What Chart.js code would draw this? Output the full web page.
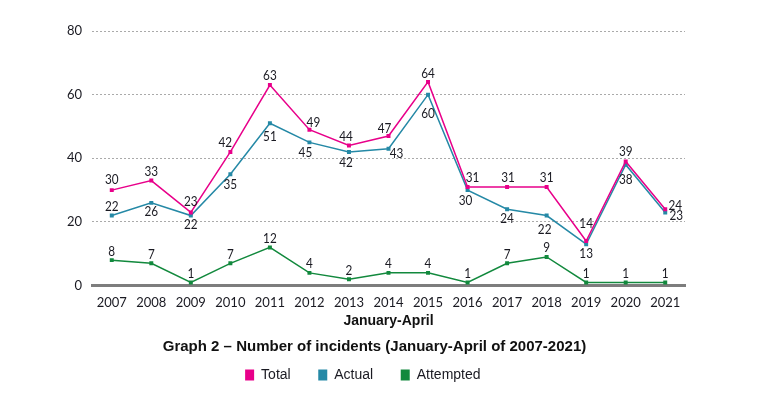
<!DOCTYPE html>
<html>
<head>
<meta charset="utf-8">
<script src="https://cdn.jsdelivr.net/npm/chart.js@4.4.1/dist/chart.umd.min.js"></script>
<style>
html,body{margin:0;padding:0;background:#fff;}
#wrap{width:761px;height:406px;}
</style>
</head>
<body>
<div id="wrap"><canvas id="c"></canvas></div>
<script>
const categories = ['2007','2008','2009','2010','2011','2012','2013','2014','2015','2016','2017','2018','2019','2020','2021'];
const totalValues = [30,33,23,42,63,49,44,47,64,31,31,31,14,39,24];
const actualValues = [22,26,22,35,51,45,42,43,60,30,24,22,13,38,23];
const attemptedValues = [8,7,1,7,12,4,2,4,4,1,7,9,1,1,1];
const yTicks = [0,20,40,60,80];
const seriesNames = ['Total','Actual','Attempted'];

// label offsets in px (style only): [dx, dy]
const totalLabelOffsets = [[0,-11],[0,-9],[0,-11],[-5,-9],[0,-10],[4,-7],[-3,-9],[-4,-8],[0,-8],[5,-9],[1,-9],[0,-9],[0,-18],[0,-10],[10,-4]];
const actualLabelOffsets = [[0,-9],[0,9],[0,9],[0,10],[0,13],[-4,10],[-3,11],[8,5],[0,19],[-2,10],[0,9],[-2,14],[0,9],[0,15],[11,3]];
const attemptedLabelOffsets = Array.from({length: 15}, () => [0,-9]);

const numFont = 'Lato, "Open Sans", sans-serif';

const labelPlugin = {
  id:'pointLabels',
  afterDatasetsDraw(chart){
    const ctx = chart.ctx;
    chart.data.datasets.forEach((ds, di) => {
      const meta = chart.getDatasetMeta(di);
      meta.data.forEach((pt, i) => {
        const o = ds.labelOffsets[i];
        ctx.save();
        ctx.font = '14px ' + numFont;
        ctx.fillStyle = '#1a1a22';
        ctx.textAlign = 'center';
        ctx.textBaseline = 'middle';
        ctx.translate(pt.x + o[0], pt.y + o[1]);
        ctx.scale(0.84, 1);
        ctx.fillText(String(ds.data[i]), 0, 0);
        ctx.restore();
      });
    });
  }
};

const mk = (label, data, color, offs) => ({
  label, data, labelOffsets: offs,
  borderColor: color, backgroundColor: color,
  borderWidth: 1.5, pointStyle: 'rect', pointRadius: 2.8, pointHoverRadius: 2.8,
  pointBorderWidth: 0, tension: 0, fill: false
});

const legendPad = ['    ', '    ', '      '];

new Chart(document.getElementById('c'), {
  type: 'line',
  data: {
    labels: categories,
    datasets: [
      mk(seriesNames[0], totalValues, '#e8008a', totalLabelOffsets),
      mk(seriesNames[1], actualValues, '#2589a6', actualLabelOffsets),
      mk(seriesNames[2], attemptedValues, '#12893d', attemptedLabelOffsets)
    ]
  },
  options: {
    responsive: true, maintainAspectRatio: false, animation: false,
    layout: { padding: { top: 31, bottom: 14, left: 64, right: 76 } },
    scales: {
      x: {
        offset: true,
        grid: { display: false, drawTicks: false },
        border: { display: true, color: '#7d7d7d', width: 3 },
        ticks: { color: '#1a1a22', font: { size: 13, family: numFont }, padding: 9 },
        title: { display: true, text: 'January-April', color: '#111',
          font: { size: 14, weight: 'bold', family: '"Liberation Sans", Arial, sans-serif' }, padding: { top: -6, bottom: 0 } }
      },
      y: {
        min: 0, max: 80,
        afterBuildTicks(s){ s.ticks = yTicks.map(v => ({ value: v })); },
        afterFit(s){ s.width = 28; },
        grid: { color: '#aaaaaa', lineWidth: 1, drawTicks: false },
        border: { display: false, dash: [2,2] },
        ticks: { color: '#1a1a22', font: { size: 13, family: numFont }, padding: 10 }
      }
    },
    plugins: {
      tooltip: { enabled: false },
      title: {
        display: true, position: 'bottom', weight: 500,
        text: 'Graph 2 \u2013 Number of incidents (January-April of 2007-2021)',
        color: '#111',
        font: { size: 15, weight: 'bold', family: '"Liberation Sans", Arial, sans-serif' },
        padding: { top: 8, bottom: 0 }
      },
      legend: {
        position: 'bottom', weight: 1000,
        labels: {
          boxWidth: 9, boxHeight: 11, padding: 12, color: '#1a1a22',
          font: { size: 14, family: '"Liberation Sans", Arial, sans-serif' },
          generateLabels(chart){
            return chart.data.datasets.map((ds, i) => ({
              text: ds.label + legendPad[i],
              fillStyle: ds.backgroundColor, strokeStyle: ds.borderColor,
              lineWidth: 0, hidden: false, datasetIndex: i, fontColor: '#1a1a22'
            }));
          }
        }
      }
    }
  },
  plugins: [labelPlugin]
});
</script>
</body>
</html>
